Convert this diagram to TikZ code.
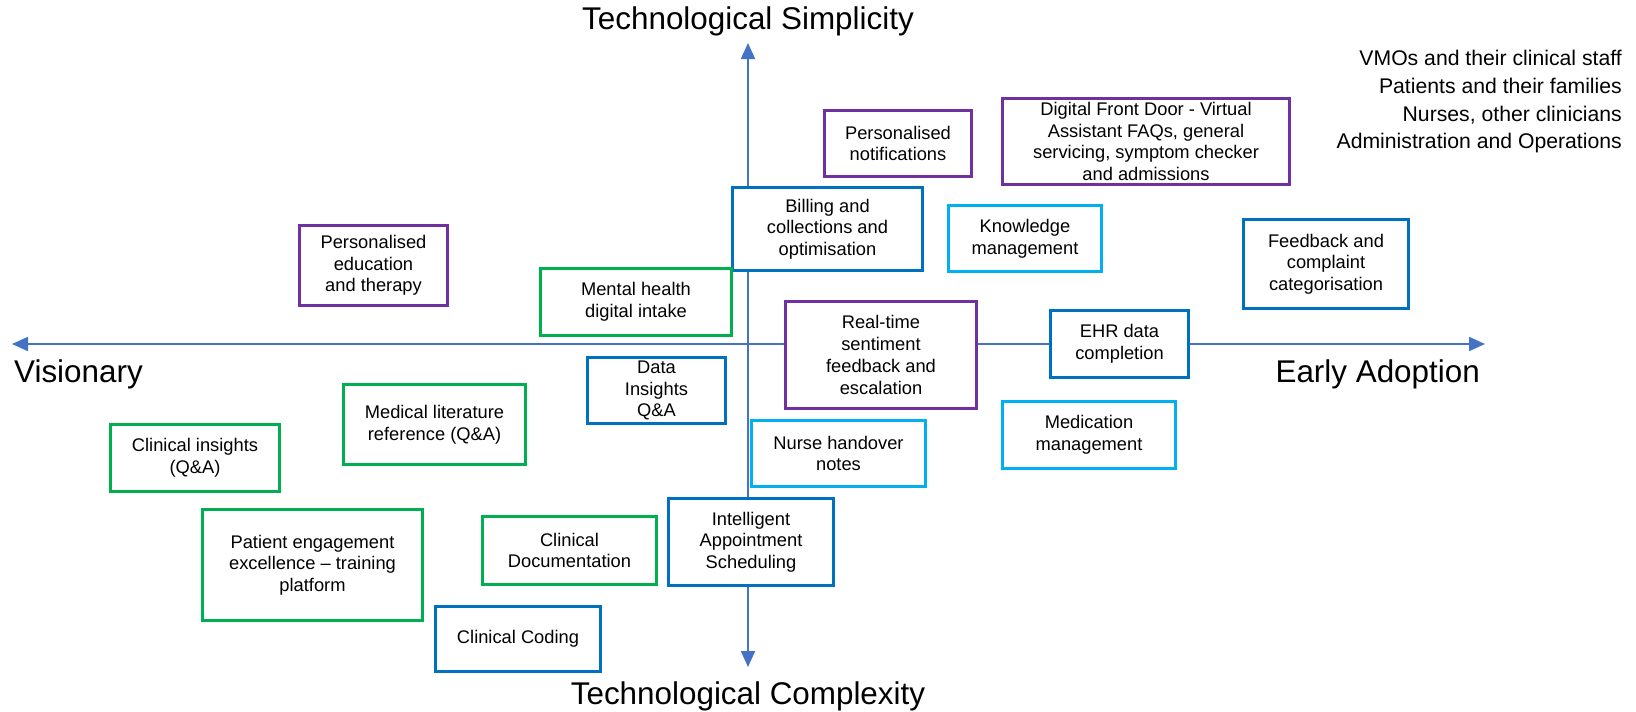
\documentclass[tikz,border=0pt]{standalone}
\usepackage{fontspec}
\setmainfont{Liberation Sans}
\usetikzlibrary{arrows.meta}

\definecolor{usecasepurple}{HTML}{7030A0}
\definecolor{usecasegreen}{HTML}{00B050}
\definecolor{usecaseblue}{HTML}{0070C0}
\definecolor{usecasecyan}{HTML}{00B0F0}
\definecolor{axisblue}{HTML}{4472C4}

\tikzset{
  usecase/.style={draw, fill=white, line width=3pt, align=center, inner sep=0pt,
    font=\fontsize{18.3}{21.7}\selectfont},
  purplecase/.style={usecase, draw=usecasepurple},
  greencase/.style={usecase, draw=usecasegreen},
  bluecase/.style={usecase, draw=usecaseblue},
  cyancase/.style={usecase, draw=usecasecyan},
  axisline/.style={line width=2pt, draw=axisblue,
    arrows={Triangle[length=16pt,width=14pt]-Triangle[length=16pt,width=14pt]}},
  axislabel/.style={inner sep=0pt, font=\fontsize{31.4}{36}\selectfont},
  legendtext/.style={inner sep=0pt, anchor=base east, font=\fontsize{21.2}{28}\selectfont}
}

\begin{document}
\begin{tikzpicture}[x=1pt, y=-1pt]
    \useasboundingbox (0,0) rectangle (1636,712);

    % --- eixos da matriz ---
    \coordinate (westend) at (12,344);
    \coordinate (eastend) at (1485,344);
    \coordinate (northend) at (748,43);
    \coordinate (southend) at (748,667);
    \draw[axisline] (westend) -- (eastend);
    \draw[axisline] (southend) -- (northend);

    \node[axislabel, anchor=base] (simplicity) at (748,29) {Technological Simplicity};
    \node[axislabel, anchor=base] (complexity) at (748,704) {Technological Complexity};
    \node[axislabel, anchor=base west] (visionary) at (14,382) {Visionary};
    \node[axislabel, anchor=base east] (earlyadoption) at (1480,382) {Early Adoption};

    % --- grupos de usuarios (canto superior direito) ---
    \foreach \i/\y/\txt in {1/65/VMOs and their clinical staff,
                            2/93/Patients and their families,
                            3/121/{Nurses, other clinicians},
                            4/148/Administration and Operations}
      \node[legendtext] (group\i) at (1622,\y) {\txt};

    % --- casos de uso, quadrante superior ---
    \node[purplecase, minimum width=147pt, minimum height=66pt] (notifications) at (898,143.5)
      {Personalised\\notifications};
    \node[purplecase, minimum width=287pt, minimum height=86pt] (frontdoor) at (1146,141.5)
      {Digital Front Door - Virtual\\Assistant FAQs, general\\servicing, symptom checker\\and admissions};
    \node[bluecase, minimum width=190pt, minimum height=83pt] (billing) at (827.5,229)
      {Billing and\\collections and\\optimisation};
    \node[cyancase, minimum width=153pt, minimum height=66pt] (knowledge) at (1025,238.5)
      {Knowledge\\management};
    \node[bluecase, minimum width=165pt, minimum height=89pt] (feedback) at (1326,264)
      {Feedback and\\complaint\\categorisation};
    \node[purplecase, minimum width=148pt, minimum height=80pt] (education) at (373.5,265.5)
      {Personalised\\education\\and therapy};
    \node[greencase, minimum width=191pt, minimum height=67pt] (mentalhealth) at (636,302)
      {Mental health\\digital intake};

    % --- casos de uso sobre o eixo horizontal ---
    \node[purplecase, minimum width=191pt, minimum height=107pt] (sentiment) at (881,355)
      {Real-time\\sentiment\\feedback and\\escalation};
    \node[bluecase, minimum width=138pt, minimum height=67pt] (ehr) at (1119.5,344)
      {EHR data\\completion};

    % --- casos de uso, quadrante inferior ---
    \node[bluecase, minimum width=138pt, minimum height=66pt] (datainsights) at (656.5,390.5)
      {Data\\Insights\\Q\&A};
    \node[greencase, minimum width=182pt, minimum height=80pt] (literature) at (434.5,424.5)
      {Medical literature\\reference (Q\&A)};
    \node[cyancase, minimum width=173pt, minimum height=67pt] (medication) at (1089,435)
      {Medication\\management};
    \node[greencase, minimum width=169pt, minimum height=67pt] (clinicalinsights) at (195,458)
      {Clinical insights\\(Q\&A)};
    \node[cyancase, minimum width=174pt, minimum height=66pt] (handover) at (838.5,453.5)
      {Nurse handover\\notes};
    \node[bluecase, minimum width=165pt, minimum height=87pt] (scheduling) at (751,542)
      {Intelligent\\Appointment\\Scheduling};
    \node[greencase, minimum width=174pt, minimum height=68pt] (documentation) at (569.5,550.5)
      {Clinical\\Documentation};
    \node[greencase, minimum width=220pt, minimum height=111pt] (engagement) at (312.5,565)
      {Patient engagement\\excellence -- training\\platform};
    \node[bluecase, minimum width=165pt, minimum height=65pt] (coding) at (518,639)
      {Clinical Coding};
\end{tikzpicture}
\end{document}
